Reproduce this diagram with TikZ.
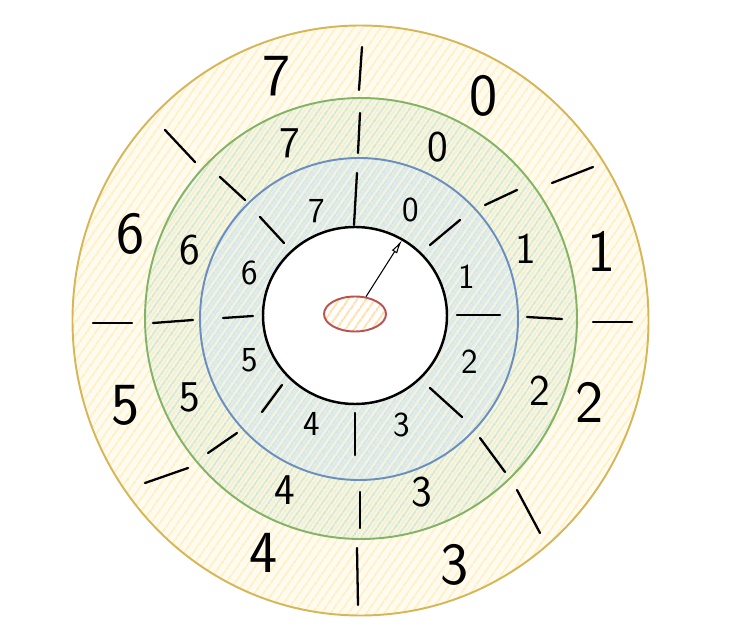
\documentclass[tikz,border=0pt]{standalone}
\usetikzlibrary{arrows.meta, patterns.meta, shapes.geometric}
\definecolor{yline}{HTML}{D6B656}
\definecolor{yfill}{HTML}{FFF0C4}
\definecolor{gline}{HTML}{82B366}
\definecolor{gfill}{HTML}{D5E8D0}
\definecolor{bline}{HTML}{6C8EBF}
\definecolor{bfill}{HTML}{D8E7F6}
\definecolor{rline}{HTML}{B85450}
\begin{document}
\begin{tikzpicture}[x=0.02cm,y=-0.02cm,ring/.style={line width=1.1pt},hatch/.style 2 args={pattern={Lines[angle=55,distance=4pt,line width=1.2pt,yshift=#2]},pattern color=#1},tick/.style={line width=1.3pt,line cap=round},bigdigit/.style={font=\sffamily\fontsize{34}{34}\selectfont},middigit/.style={font=\sffamily\fontsize{25}{25}\selectfont},smalldigit/.style={font=\sffamily\fontsize{20}{20}\selectfont}]
\useasboundingbox (0,0) rectangle (751,628);
% rings
\draw[ring,draw=yline,preaction={fill=yfill,fill opacity=0.25},hatch={yfill}{0pt}] (360.5,320.5) ellipse[x radius=288,y radius=295];
\draw[ring,draw=gline,preaction={fill=gfill,fill opacity=0.2},hatch={gfill}{1.3pt}] (361,318.5) ellipse[x radius=216,y radius=220.5];
\draw[ring,draw=bline,preaction={fill=bfill,fill opacity=0.2},hatch={bfill}{2.6pt}] (359,319) ellipse[x radius=159,y radius=161];
\draw[line width=1.4pt,fill=white] (355,315.5) ellipse[x radius=92,y radius=88.5];
% hub and pointer
\node[ellipse,draw=rline,line width=1.1pt,minimum width=1.24cm,minimum height=0.7cm,inner sep=0pt,hatch={yfill!85!orange}{0pt}] (hub) at (355,314) {};
\coordinate (tip) at (402,240);
\draw[line width=0.6pt,-{Latex[open,length=8pt,width=3.5pt]}] (hub) -- (tip);
% outer ticks
\draw[tick] (362,47) -- (359,90); \draw[tick] (165,130) -- (195,162); \draw[tick] (93,323) -- (132,323); \draw[tick] (145,483) -- (188,468);
\draw[tick] (357,548) -- (358,605); \draw[tick] (517,490) -- (540,533); \draw[tick] (593,322) -- (632,322); \draw[tick] (552,183) -- (593,167);
% green ticks
\draw[tick] (360,113) -- (358,153); \draw[tick] (220,177) -- (245,200); \draw[tick] (153,323) -- (193,320); \draw[tick] (208,453) -- (237,433);
\draw[tick] (360,492) -- (360,528); \draw[tick] (480,438) -- (505,472); \draw[tick] (527,317) -- (562,319); \draw[tick] (485,205) -- (517,190);
% blue ticks
\draw[tick] (357,173) -- (354,225); \draw[tick] (260,217) -- (284,243); \draw[tick] (223,318) -- (253,316); \draw[tick] (262,412) -- (282,385);
\draw[tick] (355,413) -- (355,455); \draw[tick] (430,388) -- (462,417); \draw[tick] (457,315) -- (500,315); \draw[tick] (430,245) -- (460,220);
% outer digits
\node[bigdigit] (o0) at (484,96) {0}; \node[bigdigit] (o1) at (602,251) {1}; \node[bigdigit] (o2) at (590,402) {2}; \node[bigdigit] (o3) at (455,565) {3};
\node[bigdigit] (o4) at (264,553) {4}; \node[bigdigit] (o5) at (126,405) {5}; \node[bigdigit] (o6) at (131,234) {6}; \node[bigdigit] (o7) at (277,76) {7};
% green digits
\node[middigit] (g0) at (438,147) {0}; \node[middigit] (g1) at (526,249) {1}; \node[middigit] (g2) at (540,391) {2}; \node[middigit] (g3) at (422,492) {3};
\node[middigit] (g4) at (285,490) {4}; \node[middigit] (g5) at (190,397) {5}; \node[middigit] (g6) at (190,250) {6}; \node[middigit] (g7) at (290,143) {7};
% blue digits
\node[smalldigit] (b0) at (411,210) {0}; \node[smalldigit] (b1) at (467,277) {1}; \node[smalldigit] (b2) at (470,362) {2}; \node[smalldigit] (b3) at (402,425) {3};
\node[smalldigit] (b4) at (312,424) {4}; \node[smalldigit] (b5) at (250,360) {5}; \node[smalldigit] (b6) at (250,273) {6}; \node[smalldigit] (b7) at (317,211) {7};
\end{tikzpicture}
\end{document}
